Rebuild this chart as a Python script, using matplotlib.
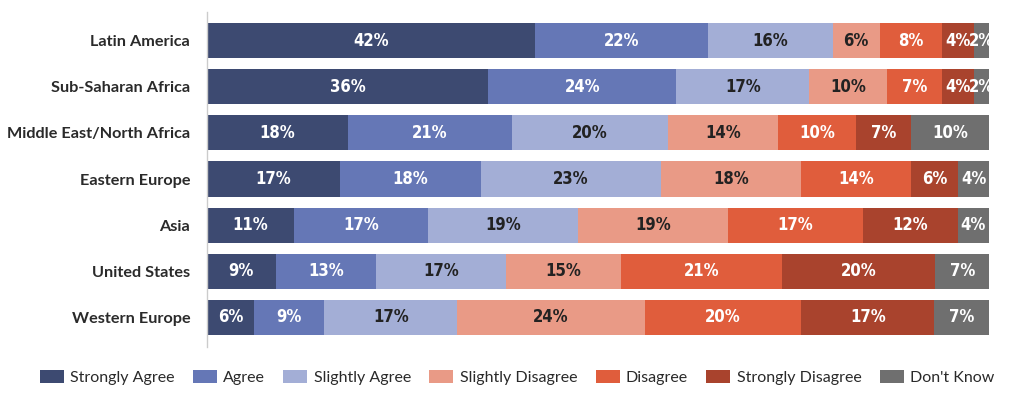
import matplotlib
matplotlib.use("Agg")
import matplotlib.pyplot as plt
import numpy as np

regions = ["Latin America", "Sub-Saharan Africa", "Middle East/North Africa",
           "Eastern Europe", "Asia", "United States", "Western Europe"]
categories = ["Strongly Agree", "Agree", "Slightly Agree", "Slightly Disagree",
              "Disagree", "Strongly Disagree", "Don't Know"]
strongly_agree    = [42, 36, 18, 17, 11, 9, 6]
agree             = [22, 24, 21, 18, 17, 13, 9]
slightly_agree    = [16, 17, 20, 23, 19, 17, 17]
slightly_disagree = [6, 10, 14, 18, 19, 15, 24]
disagree          = [8, 7, 10, 14, 17, 21, 20]
strongly_disagree = [4, 4, 7, 6, 12, 20, 17]
dont_know         = [2, 2, 10, 4, 4, 7, 7]

series = [strongly_agree, agree, slightly_agree, slightly_disagree,
          disagree, strongly_disagree, dont_know]
colors = ["#3d4a71", "#6577b6", "#a3aed6", "#e99a86", "#e05d3c", "#a9432d", "#6f6f6f"]
text_colors = ["white", "white", "#222222", "#222222", "white", "white", "white"]

data = np.array(series, dtype=float)
totals = data.sum(axis=0)
widths = data / totals * 100

fig = plt.figure(figsize=(10.24, 4.15), dpi=100)
ax = fig.add_axes([0.202, 0.164, 0.764, 0.807])

y = np.arange(len(regions))
left = np.zeros(len(regions))
for i, cat in enumerate(categories):
    bars = ax.barh(y, widths[i], left=left, height=0.76, color=colors[i],
                   label=cat, edgecolor="none")
    for j, b in enumerate(bars):
        cx = left[j] + widths[i][j] / 2
        ax.text(cx, y[j], f"{int(data[i][j])}%", ha="center", va="center",
                color=text_colors[i], fontsize=12, fontweight="bold",
                family="DejaVu Sans", fontstretch="condensed")
    left += widths[i]

ax.set_xlim(0, 100)
ax.set_ylim(6.64, -0.62)
ax.set_yticks(y)
ax.set_yticklabels(regions)
for t in ax.get_yticklabels():
    t.set_fontfamily("Lato")
    t.set_fontweight("bold")
    t.set_fontsize(11.7)
    t.set_color("#2a2a2a")
ax.tick_params(axis="y", length=0, pad=12)
ax.set_xticks([])
for s in ["top", "right", "bottom"]:
    ax.spines[s].set_visible(False)
ax.spines["left"].set_color("#cccccc")
ax.spines["left"].set_linewidth(1)

handles, labels = ax.get_legend_handles_labels()
leg = fig.legend(handles, labels, loc="center", bbox_to_anchor=(0.505, 0.09), ncol=7,
                 frameon=False, handlelength=1.5, handleheight=0.9,
                 handletextpad=0.4, columnspacing=1.15,
                 prop={"family": "Lato", "size": 11.5})
for t in leg.get_texts():
    t.set_color("#2a2a2a")

fig.savefig("out.png", dpi=100)
